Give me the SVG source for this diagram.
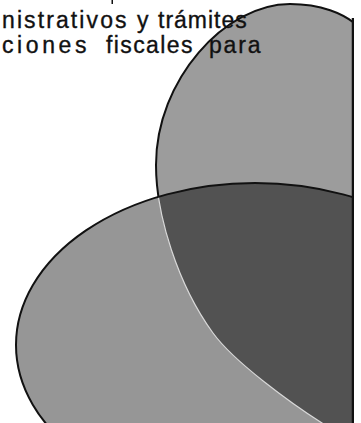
<svg xmlns="http://www.w3.org/2000/svg" width="361" height="423" viewBox="0 0 361 423">
<style>
.txt{font-family:"Liberation Sans",Arial,sans-serif;font-size:23px;fill:#111;stroke:#111;stroke-width:0.35}
.light{fill:#9c9c9c}
.light2{fill:#969696}
.dark{fill:#525252}
.outline{fill:none;stroke:#111;stroke-width:2}
.inner{fill:none;stroke:#d8d8d8;stroke-width:1.2}
</style>
<defs>
<path id="upperShape" d="M 362,30 C 345,12 318,4 290,4 C 225,4 156,80 156,165 C 156,215 178,285 213,333 C 234,362 292,404 322,423 L 345,440 L 362,440 Z"/>
<ellipse id="lowerShape" cx="255" cy="345" rx="239" ry="162"/>
<clipPath id="frame"><rect x="0" y="0" width="354" height="423"/></clipPath>
<clipPath id="clipLower"><use href="#lowerShape"/></clipPath>
</defs>
<g id="shapes" clip-path="url(#frame)">
<g id="upper-ellipse">
<use href="#upperShape" class="light"/>
<use href="#upperShape" class="outline"/>
</g>
<g id="lower-ellipse">
<use href="#lowerShape" class="light2"/>
</g>
<g id="intersection" clip-path="url(#clipLower)">
<use href="#upperShape" class="dark"/>
<use href="#upperShape" class="inner"/>
</g>
<use href="#lowerShape" class="outline"/>
<line x1="353" y1="18" x2="353" y2="423" stroke="#111" stroke-width="2.5"/>
</g>
<rect x="111.5" y="0" width="1.5" height="4" fill="#111"/>
<g id="text">
<text class="txt" x="2" y="28" letter-spacing="2.1">nistrativos</text>
<text class="txt" x="137" y="28">y</text>
<text class="txt" x="158" y="28" letter-spacing="1">trámites</text>
<text class="txt" x="2" y="53" letter-spacing="3.6">ciones</text>
<text class="txt" x="106" y="53" letter-spacing="1.4">fiscales</text>
<text class="txt" x="209" y="53" letter-spacing="1.8">para</text>
</g>
</svg>
